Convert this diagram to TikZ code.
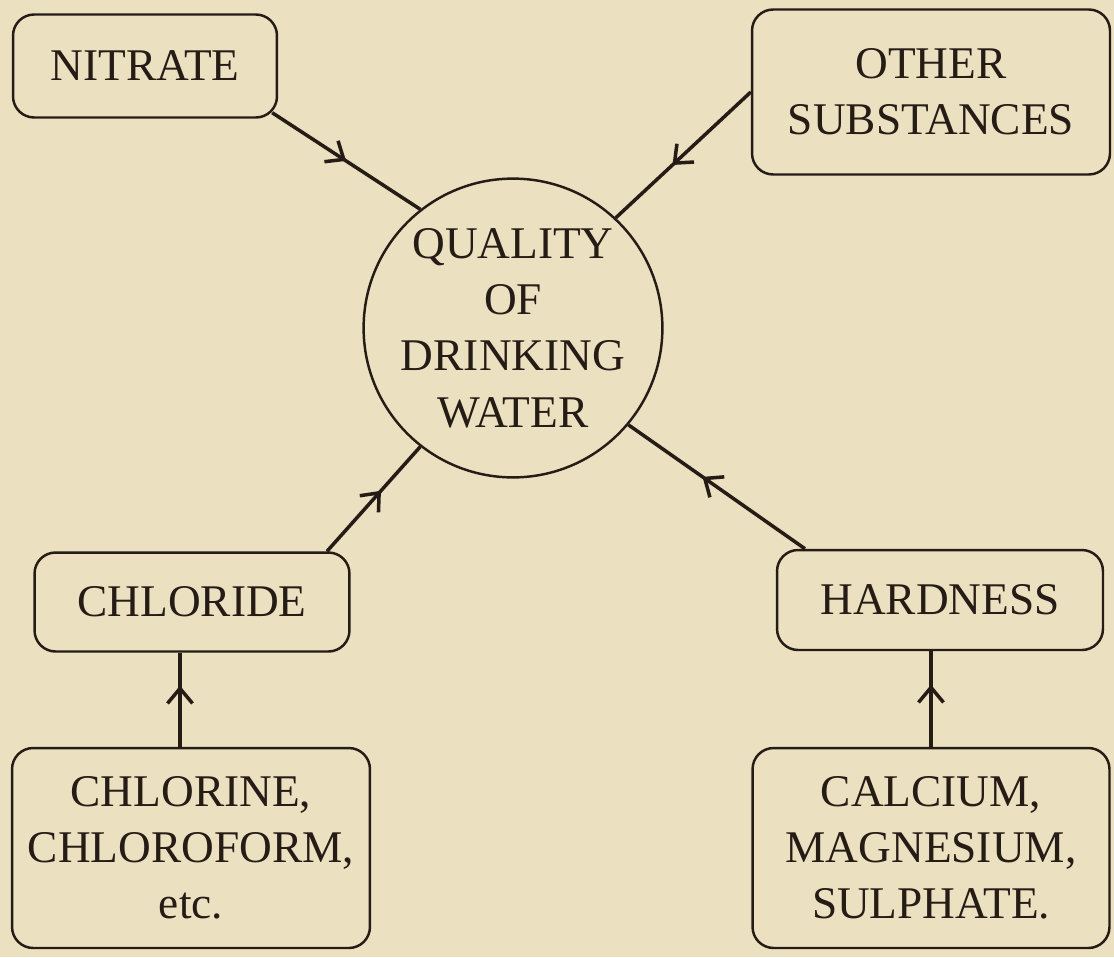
\documentclass[tikz,border=0pt]{standalone}
\usepackage{fontspec}
\setmainfont{Liberation Serif}
\usetikzlibrary{arrows.meta,decorations.markings}
\definecolor{paper}{RGB}{235,224,192}
\definecolor{ink}{RGB}{38,28,22}

\begin{document}
\begin{tikzpicture}[
    x=0.02cm, y=-0.02cm,
    font=\fontsize{25.8}{32}\selectfont,
    box/.style={
        rectangle,
        draw=ink,
        line width=1.4pt,
        rounded corners=12pt,
        align=center,
        inner sep=0pt,
        text=ink
    },
    hub/.style={
        circle,
        draw=ink,
        line width=1.4pt,
        minimum size=5.92cm,
        align=center,
        inner sep=0pt,
        text=ink
    },
    flow/.style={
        draw=ink,
        line width=2pt,
        postaction={decorate},
        decoration={markings,
            mark=at position #1 with {\arrow{Straight Barb[length=3mm,width=5mm]}}}
    },
    flow/.default=0.58
]

\fill[paper] (0,0) rectangle (1114,957);

\node[hub] (quality) at (513,328) {QUALITY\\OF\\DRINKING\\WATER};

\node[box, minimum width=5.28cm, minimum height=2.06cm] (nitrate) at (145,66) {NITRATE};
\node[box, minimum width=7.16cm, minimum height=3.3cm] (other) at (931,92) {OTHER\\SUBSTANCES};
\node[box, minimum width=6.3cm, minimum height=1.98cm] (chloride) at (192,602) {CHLORIDE};
\node[box, minimum width=6.52cm, minimum height=2.0cm] (hardness) at (940,600) {HARDNESS};
\node[box, minimum width=7.16cm, minimum height=4.0cm] (chlorine) at (191,848) {CHLORINE,\\CHLOROFORM,\\etc.};
\node[box, minimum width=7.14cm, minimum height=4.0cm] (calcium) at (931,848) {CALCIUM,\\MAGNESIUM,\\SULPHATE.};

\draw[flow=0.5] ([shift={(-6,-6)}]nitrate.south east) -- (quality.128);
\draw[flow] (other.west) -- (quality.47);
\draw[flow] ([shift={(135,0)}]chloride.north) -- (quality.232);
\draw[flow] ([shift={(-135,0)}]hardness.north) -- (quality.320);

\draw[flow=0.65] ([shift={(-11,0)}]chlorine.north) -- ([shift={(-11,0)}]chlorine.north |- chloride.south);
\draw[flow=0.65] (calcium.north) -- (calcium.north |- hardness.south);

\end{tikzpicture}
\end{document}
